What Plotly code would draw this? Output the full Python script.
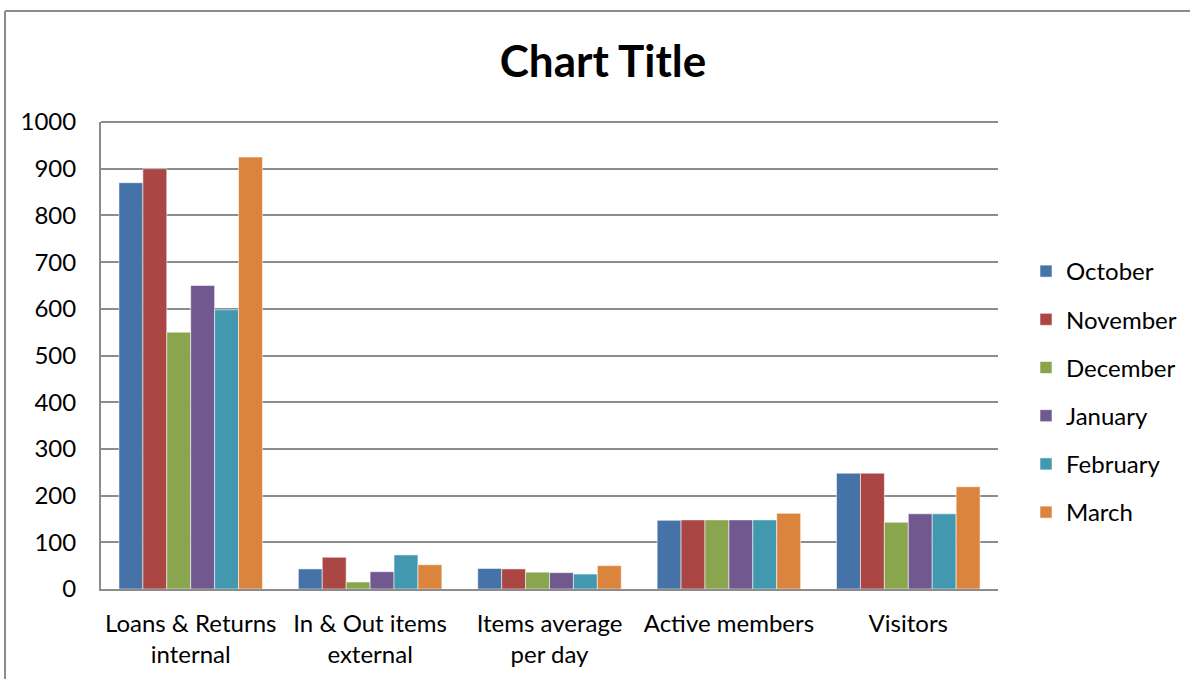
import plotly.graph_objects as go

# Monthly library statistics
categories = [
    "Loans & Returns<br>internal",
    "In & Out items<br>external",
    "Items average<br>per day",
    "Active members",
    "Visitors",
]
months = ["October", "November", "December", "January", "February", "March"]

october = [870, 43, 44, 147, 248]
november = [900, 68, 43, 148, 248]
december = [550, 15, 36, 148, 143]
january = [650, 37, 35, 148, 161]
february = [598, 73, 32, 148, 161]
march = [925, 52, 50, 162, 219]

series = [october, november, december, january, february, march]
colors = ["#4572A7", "#AA4643", "#89A54E", "#71588F", "#4198AF", "#DB843D"]

font_family = "Lato, 'Open Sans', sans-serif"

fig = go.Figure()
for name, vals, col in zip(months, series, colors):
    fig.add_trace(go.Bar(
        name=name,
        x=categories,
        y=vals,
        marker=dict(color=col, line=dict(color="rgba(255,255,255,0.55)", width=1)),
        legendgroup=name,
    ))

W, H = 1190, 679
ml, mr, mt, mb = 101, 192, 122, 90
pw, ph = W - ml - mr, H - mt - mb

def px_x(x):
    return (x - ml) / pw

def px_y(y):
    return (H - mb - y) / ph

grid = "#8c8c8c"

fig.update_layout(
    width=W,
    height=H,
    margin=dict(l=ml, r=mr, t=mt, b=mb, pad=0, autoexpand=False),
    paper_bgcolor="white",
    plot_bgcolor="white",
    barmode="group",
    bargap=0.2,
    bargroupgap=0,
    font=dict(family=font_family, size=24, color="#000000"),
    title=dict(
        text="<b>Chart Title</b>",
        x=603 / W,
        xanchor="center",
        xref="container",
        y=1 - 62 / H,
        yanchor="middle",
        font=dict(size=44, family=font_family, color="#000000"),
    ),
    legend=dict(
        x=px_x(1026),
        xanchor="left",
        y=px_y(249),
        yanchor="top",
        font=dict(size=24, family=font_family),
        tracegroupgap=14,
        itemwidth=30,
        bgcolor="rgba(0,0,0,0)",
    ),
    xaxis=dict(
        showline=True,
        linecolor=grid,
        linewidth=2,
        ticks="",
        ticklabelstandoff=12,
        tickfont=dict(size=24),
        showgrid=False,
        fixedrange=True,
    ),
    yaxis=dict(
        range=[0, 1000],
        dtick=100,
        showline=True,
        linecolor=grid,
        linewidth=2,
        showgrid=True,
        gridcolor=grid,
        gridwidth=2,
        ticks="",
        ticklabelstandoff=18,
        tickfont=dict(size=24),
        zeroline=False,
    ),
    shapes=[
        # top gridline at the axis maximum
        dict(type="line", xref="paper", yref="paper",
             x0=0, x1=1, y0=1, y1=1,
             line=dict(color=grid, width=2)),
        # outer chart frame (left and top edges)
        dict(type="line", xref="paper", yref="paper",
             x0=px_x(5), x1=px_x(5), y0=px_y(11), y1=px_y(700),
             line=dict(color=grid, width=2)),
        dict(type="line", xref="paper", yref="paper",
             x0=px_x(5), x1=px_x(1200), y0=px_y(11), y1=px_y(11),
             line=dict(color=grid, width=2)),
    ],
)

fig.write_html("out.html")
